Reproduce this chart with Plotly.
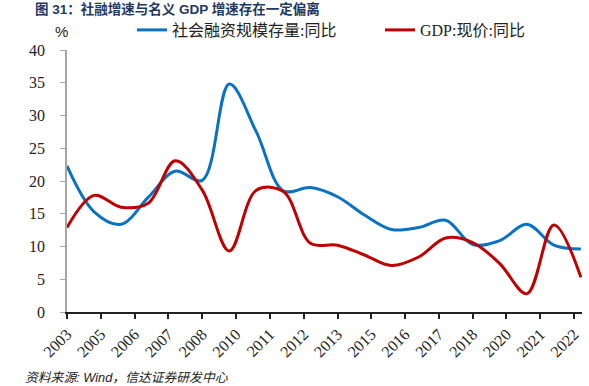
import plotly.graph_objects as go

years = [f"{y}-12-31" for y in range(2003, 2023)]
tsf_yoy = [22.3, 15.3, 13.4, 17.5, 21.5, 20.1, 34.8, 27.5, 18.5, 19.0,
           17.6, 14.8, 12.6, 12.9, 14.0, 10.3, 10.9, 13.4, 10.2, 9.6]
gdp_yoy = [12.9, 17.8, 16.0, 16.6, 23.1, 18.6, 9.3, 18.6, 18.4, 10.5,
           10.2, 8.7, 7.1, 8.4, 11.3, 10.6, 7.4, 2.8, 13.3, 5.3]

tick_dates = ["2003-12-31", "2005-03-31", "2006-06-30", "2007-09-30",
              "2008-12-31", "2010-03-31", "2011-06-30", "2012-09-30",
              "2013-12-31", "2015-03-31", "2016-06-30", "2017-09-30",
              "2018-12-31", "2020-03-31", "2021-06-30", "2022-09-30"]
tick_labels = ["2003", "2005", "2006", "2007", "2008", "2010", "2011", "2012",
               "2013", "2015", "2016", "2017", "2018", "2020", "2021", "2022"]

SERIF = "Liberation Serif, Times New Roman, Noto Sans CJK SC, serif"
CJK = "Liberation Serif, Noto Sans CJK SC, sans-serif"

L, R, T, B = 67, 7, 50, 74
PW, PH = 589 - L - R, 386 - T - B


def px_x(x):
    return (x - L) / PW


def px_y(y):
    return (386 - B - y) / PH


fig = go.Figure()
fig.add_trace(go.Scatter(x=years, y=tsf_yoy, mode="lines", name="社会融资规模存量:同比",
                         legend="legend",
                         line=dict(color="#0A72C4", width=3, shape="spline", smoothing=1)))
fig.add_trace(go.Scatter(x=years, y=gdp_yoy, mode="lines", name="GDP:现价:同比",
                         legend="legend2",
                         line=dict(color="#C00000", width=3, shape="spline", smoothing=1)))

legend_common = dict(orientation="h", xanchor="left", yanchor="middle", y=px_y(30),
                     font=dict(family=CJK, size=16, color="#222222"),
                     bgcolor="rgba(0,0,0,0)", borderwidth=0)

fig.update_layout(
    width=589, height=386,
    margin=dict(l=L, r=R, t=T, b=B, autoexpand=False),
    paper_bgcolor="white", plot_bgcolor="white",
    legend=dict(x=px_x(132), **legend_common),
    legend2=dict(x=px_x(380), **legend_common),
    showlegend=True,
)

fig.update_xaxes(
    type="date",
    range=["2003-12-31", "2023-01-15"],
    tickmode="array", tickvals=tick_dates, ticktext=tick_labels,
    tickangle=-45,
    tickfont=dict(family=SERIF, size=16, color="#222222"),
    showgrid=False, zeroline=False,
    showline=True, linecolor="#222222", linewidth=1.5,
    ticks="outside", ticklen=5, tickcolor="#222222", tickwidth=1.5,
    automargin=False,
)
fig.update_yaxes(
    range=[0, 40], tick0=0, dtick=5,
    tickfont=dict(family=SERIF, size=16, color="#222222"),
    showgrid=False, zeroline=False,
    showline=True, linecolor="#A6A6A6", linewidth=1.5,
    ticks="outside", ticklen=5, tickcolor="#A6A6A6", tickwidth=1,
    ticklabelstandoff=12, automargin=False,
)

fig.add_annotation(text="<b>图 31：社融增速与名义 GDP 增速存在一定偏离</b>",
                   xref="paper", yref="paper", x=px_x(177), y=px_y(9),
                   xanchor="center", yanchor="middle", showarrow=False,
                   font=dict(family="Liberation Sans, Noto Sans CJK SC, sans-serif",
                             size=13.5, color="#1F3864"))
fig.add_annotation(text="%", xref="paper", yref="paper", x=px_x(61.5), y=px_y(31),
                   xanchor="center", yanchor="middle", showarrow=False,
                   font=dict(family="Liberation Sans, sans-serif", size=15, color="#222222"))
fig.add_annotation(text="<i>资料来源: Wind，信达证券研发中心</i>", xref="paper", yref="paper",
                   x=px_x(126), y=px_y(377), xanchor="center", yanchor="middle",
                   showarrow=False,
                   font=dict(family="Liberation Sans, Noto Sans CJK SC, sans-serif",
                             size=12.8, color="#222222"))

fig.write_html("out.html", config={"displayModeBar": False},
               post_script="document.body.style.margin='0';document.body.style.overflow='hidden';")
